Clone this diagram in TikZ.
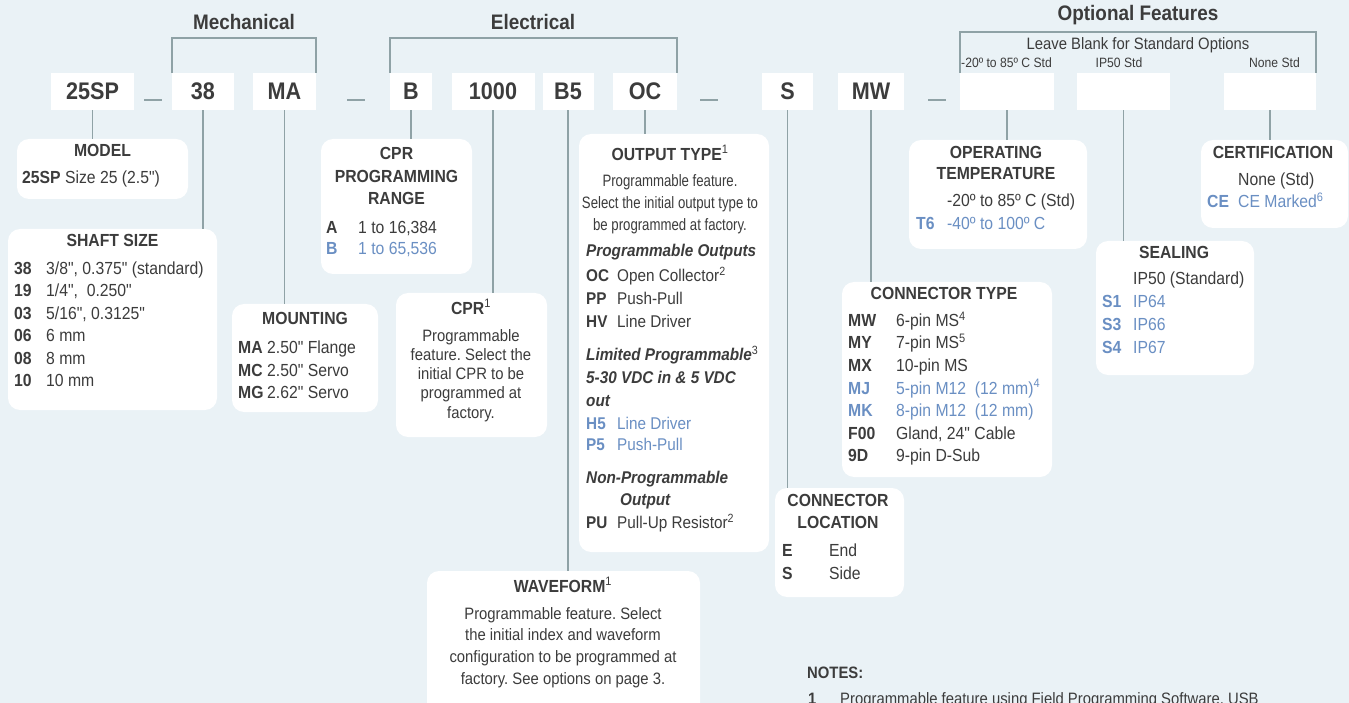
\documentclass[tikz,border=0pt]{standalone}
\usepackage{fontspec}
\setmainfont{Liberation Sans}[FakeStretch=0.9, Ligatures=TeXOff]
\newfontfamily\narrowfont{Liberation Sans}[FakeStretch=0.8, Ligatures=TeXOff]
\usepackage{tikz}

\definecolor{paper}{HTML}{EAF2F6}
\definecolor{wire}{HTML}{8FA2A6}
\definecolor{ink}{HTML}{3C3C3C}
\definecolor{opt}{HTML}{6A8FC3}

\newcommand\fsz[2]{\fontsize{#1}{#2}\selectfont}
\newcommand\optc[1]{\textcolor{opt}{#1}}
\newcommand\fnote[1]{\textsuperscript{\mdseries\upshape #1}}

\tikzset{
  codebox/.style={fill=white, minimum height=37pt, inner sep=0pt, text=ink, font=\fsz{24}{28}\bfseries},
  grouphead/.style={text=ink, inner sep=0pt, font=\fsz{21}{24}\bfseries},
  optnote/.style={text=ink, inner sep=0pt, font=\fsz{13.5}{16}},
  panel/.style={fill=white, rounded corners=12pt, inner sep=0pt},
  boxtitle/.style={text=ink, inner sep=0pt, align=center, font=\fsz{17.5}{22.5}\bfseries},
  blurb/.style={text=ink, inner sep=0pt, align=center, anchor=north},
  optrows/.style={text=ink, inner sep=0pt, anchor=base west, font=\fsz{17.5}{22.5}},
  leader/.style={draw=wire, line width=1.8pt},
  bracket/.style={draw=wire, line width=2pt},
  sepmark/.style={draw=wire, line width=1.5pt}
}

\begin{document}
\frenchspacing
\begin{tikzpicture}[x=1pt,y=-1pt]
\path[use as bounding box, fill=paper] (0,0) rectangle (1349,703);

% part number
\node[codebox, minimum width=83pt] (c25sp) at (92.5,91.5) {25SP};
\node[codebox, minimum width=62pt] (c38) at (203,91.5) {38};
\node[codebox, minimum width=63pt] (cma) at (284.5,91.5) {MA};
\node[codebox, minimum width=42pt] (cb) at (411,91.5) {B};
\node[codebox, minimum width=83pt] (c1000) at (493,91.5) {1000};
\node[codebox, minimum width=51pt] (cb5) at (568,91.5) {B5};
\node[codebox, minimum width=64pt] (coc) at (645,91.5) {OC};
\node[codebox, minimum width=51pt] (cs) at (787.5,91.5) {S};
\node[codebox, minimum width=66pt] (cmw) at (871,91.5) {MW};
\node[codebox, minimum width=94pt] (opt1) at (1007,91.5) {};
\node[codebox, minimum width=93pt] (opt2) at (1123.5,91.5) {};
\node[codebox, minimum width=92pt] (opt3) at (1270,91.5) {};
\foreach \x in {153,356,709,937}
  \draw[sepmark] (\x-9,100) -- (\x+9,100);

% groups
\node[grouphead] (mech) at (244,22) {Mechanical};
\node[grouphead] (elec) at (533,22) {Electrical};
\node[grouphead] (optf) at (1138,15) {Optional Features};
\draw[bracket] (c38.north west) -- ++(0,-35) -| (cma.north east);
\draw[bracket] (cb.north west) -- ++(0,-35) -| (coc.north east);
\draw[bracket] (opt1.north west) -- ++(0,-41) -| (opt3.north east);
\node[optnote, font=\fsz{16.5}{19}] (blank) at (1138,45) {Leave Blank for Standard Options};
\node[optnote, anchor=west] (std1) at (961,63) {-20º to 85º C Std};
\node[optnote] (std2) at (1119,63) {IP50 Std};
\node[optnote, anchor=east] (std3) at (1300,63) {None Std};

% option panels
\node[panel, minimum width=171pt, minimum height=60pt] (model) at (102.5,169) {};
\node[panel, minimum width=209pt, minimum height=181pt] (shaft) at (112.5,319.5) {};
\node[panel, minimum width=146pt, minimum height=108pt] (mount) at (305,358) {};
\node[panel, minimum width=151pt, minimum height=135pt] (range) at (396.5,206.5) {};
\node[panel, minimum width=151pt, minimum height=144pt] (cpr) at (471.5,365) {};
\node[panel, minimum width=273pt, minimum height=168pt] (wave) at (563.5,655) {};
\node[panel, minimum width=190pt, minimum height=418pt] (output) at (674,343) {};
\node[panel, minimum width=129pt, minimum height=109pt] (loc) at (839.5,542.5) {};
\node[panel, minimum width=210pt, minimum height=195pt] (ctype) at (947,379.5) {};
\node[panel, minimum width=178pt, minimum height=109pt] (temp) at (998,194.5) {};
\node[panel, minimum width=158pt, minimum height=134pt] (seal) at (1175,308) {};
\node[panel, minimum width=147pt, minimum height=88pt] (cert) at (1274.5,184) {};

% leaders
\draw[leader] (c25sp.south) -- (c25sp.south |- model.north);
\draw[leader] (c38.south) -- (c38.south |- shaft.north);
\draw[leader] (cma.south) -- (cma.south |- mount.north);
\draw[leader] (cb.south) -- (cb.south |- range.north);
\draw[leader] (c1000.south) -- (c1000.south |- cpr.north);
\draw[leader] (cb5.south) -- (cb5.south |- wave.north);
\draw[leader] (coc.south) -- (coc.south |- output.north);
\draw[leader] (cs.south) -- (cs.south |- loc.north);
\draw[leader] (cmw.south) -- (cmw.south |- ctype.north);
\draw[leader] (opt1.south) -- (opt1.south |- temp.north);
\draw[leader] (opt2.south) -- (opt2.south |- seal.north);
\draw[leader] (opt3.south) -- (opt3.south |- cert.north);

% model
\node[boxtitle] (modelhead) at (102.5,150) {MODEL};
\node[optrows] (modelrows) at (22,183.5) {\textbf{25SP} Size 25 (2.5")};

% shaft size
\node[boxtitle] (shafthead) at (112.5,240) {SHAFT SIZE};
\node[optrows] (shaftrows) at (14,274.5) {\begin{tabular}[t]{@{}p{32pt}@{}l@{}}
\textbf{38} & 3/8", 0.375" (standard)\\
\textbf{19} & 1/4",\ \ 0.250"\\
\textbf{03} & 5/16", 0.3125"\\
\textbf{06} & 6 mm\\
\textbf{08} & 8 mm\\
\textbf{10} & 10 mm
\end{tabular}};

% mounting
\node[boxtitle] (mounthead) at (305,318) {MOUNTING};
\node[optrows] (mountrows) at (238,353.5) {\begin{tabular}[t]{@{}p{29pt}@{}l@{}}
\textbf{MA} & 2.50" Flange\\
\textbf{MC} & 2.50" Servo\\
\textbf{MG} & 2.62" Servo
\end{tabular}};

% cpr range
\node[boxtitle] (rangehead) at (396.5,176) {CPR\\PROGRAMMING\\RANGE};
\node[optrows, font=\fsz{17.5}{21}] (rangerows) at (326,233.5) {\begin{tabular}[t]{@{}p{32pt}@{}l@{}}
\textbf{A} & 1 to 16,384\\
\optc{\textbf{B}} & \optc{1 to 65,536}
\end{tabular}};

% cpr
\node[boxtitle] (cprhead) at (471,307) {CPR\fnote{1}};
\node[blurb, font=\fsz{16.5}{19.25}] (cprtext) at (471,329) {Programmable\\feature. Select the\\initial CPR to be\\programmed at\\factory.};

% waveform
\node[boxtitle] (wavehead) at (563,585) {WAVEFORM\fnote{1}};
\node[blurb, font=\fsz{16.5}{21.7}] (wavetext) at (563,607) {Programmable feature. Select\\the initial index and waveform\\configuration to be programmed at\\factory. See options on page 3.};

% output type
\node[boxtitle] (outhead) at (670,153) {OUTPUT TYPE\fnote{1}};
\node[blurb, font=\narrowfont\fsz{16.5}{22}] (outtext) at (670,174.5) {Programmable feature.\\Select the initial output type to\\be programmed at factory.};
\node[optrows, font=\fsz{17}{23}] (outrows) at (586,257) {\begin{tabular}[t]{@{}p{31pt}@{}l@{}}
\multicolumn{2}{@{}l@{}}{\textbf{\textit{Programmable Outputs}}}\\[2pt]
\textbf{OC} & Open Collector\fnote{2}\\
\textbf{PP} & Push-Pull\\
\textbf{HV} & Line Driver\\[10pt]
\multicolumn{2}{@{}l@{}}{\textbf{\textit{Limited Programmable}}\fnote{3}}\\
\multicolumn{2}{@{}l@{}}{\textbf{\textit{5-30 VDC in \& 5 VDC}}}\\
\multicolumn{2}{@{}l@{}}{\textbf{\textit{out}}}\\
\optc{\textbf{H5}} & \optc{Line Driver}\\[-2pt]
\optc{\textbf{P5}} & \optc{Push-Pull}\\[10pt]
\multicolumn{2}{@{}l@{}}{\textbf{\textit{Non-Programmable}}}\\[-1pt]
\multicolumn{2}{@{}l@{}}{\hspace{34pt}\textbf{\textit{Output}}}\\
\textbf{PU} & Pull-Up Resistor\fnote{2}
\end{tabular}};

% connector location
\node[boxtitle] (lochead) at (838,511.5) {CONNECTOR\\LOCATION};
\node[optrows, font=\fsz{17.5}{23}] (locrows) at (782,556.5) {\begin{tabular}[t]{@{}p{47pt}@{}l@{}}
\textbf{E} & End\\
\textbf{S} & Side
\end{tabular}};

% connector type
\node[boxtitle] (ctypehead) at (944,293) {CONNECTOR TYPE};
\node[optrows] (ctyperows) at (848,326.5) {\begin{tabular}[t]{@{}p{48pt}@{}l@{}}
\textbf{MW} & 6-pin MS\fnote{4}\\
\textbf{MY} & 7-pin MS\fnote{5}\\
\textbf{MX} & 10-pin MS\\
\optc{\textbf{MJ}} & \optc{5-pin M12\ \ (12 mm)\fnote{4}}\\
\optc{\textbf{MK}} & \optc{8-pin M12\ \ (12 mm)}\\
\textbf{F00} & Gland, 24" Cable\\
\textbf{9D} & 9-pin D-Sub
\end{tabular}};

% operating temperature
\node[boxtitle, font=\fsz{17.5}{21}\bfseries] (temphead) at (996,162.5) {OPERATING\\TEMPERATURE};
\node[optrows, font=\fsz{17.5}{23}] (temprows) at (916,206.5) {\begin{tabular}[t]{@{}p{31pt}@{}l@{}}
 & -20º to 85º C (Std)\\
\optc{\textbf{T6}} & \optc{-40º to 100º C}
\end{tabular}};

% sealing
\node[boxtitle] (sealhead) at (1174,252) {SEALING};
\node[optrows, font=\fsz{17.5}{23}] (sealrows) at (1102,284.5) {\begin{tabular}[t]{@{}p{31pt}@{}l@{}}
 & IP50 (Standard)\\
\optc{\textbf{S1}} & \optc{IP64}\\
\optc{\textbf{S3}} & \optc{IP66}\\
\optc{\textbf{S4}} & \optc{IP67}
\end{tabular}};

% certification
\node[boxtitle] (certhead) at (1273,152) {CERTIFICATION};
\node[optrows, font=\fsz{17.5}{22}] (certrows) at (1207,185.5) {\begin{tabular}[t]{@{}p{31pt}@{}l@{}}
 & None (Std)\\
\optc{\textbf{CE}} & \optc{CE Marked\fnote{6}}
\end{tabular}};

% notes
\node[optrows, font=\fsz{16.5}{19}\bfseries] (noteshead) at (807,678) {NOTES:};
\node[optrows, font=\fsz{16.5}{19}] (note1) at (808,704.5) {\begin{tabular}[t]{@{}p{32pt}@{}l@{}}
\textbf{1} & Programmable feature using Field Programming Software, USB
\end{tabular}};
\end{tikzpicture}
\end{document}
